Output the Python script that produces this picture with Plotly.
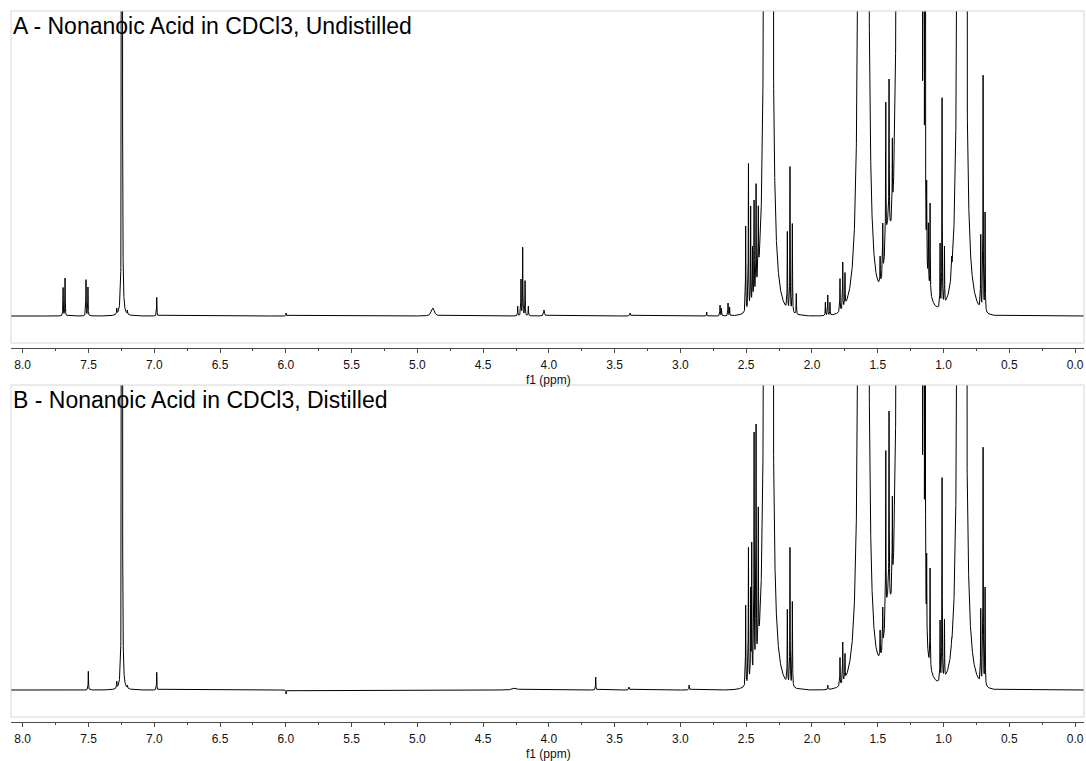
import numpy as np
import plotly.graph_objects as go

W, H = 1086, 761

# ---------------------------------------------------------------------------
# 1H NMR peak tables (chemical shift in ppm)
# Main nonanoic-acid signals, identical in both samples (tops run off scale):
# shift, amplitude, half-width at half-maximum
MAJOR_SHIFT = [7.245,
               2.350, 2.332, 2.314,
               1.635, 1.622, 1.609, 1.596, 1.583,
               1.425,
               1.340, 1.315, 1.290, 1.265, 1.240, 1.215, 1.200,
               1.178, 1.166, 1.152, 1.140,
               0.880, 0.862, 0.844]
MAJOR_AMP = [11000,
             7800, 15600, 7800,
             4900, 9800, 14700, 9800, 4900,
             60,
             10600, 15200, 18300, 18300, 15200, 12200, 7600,
             2500, 3000, 3000, 1500,
             8070, 16130, 8070]
MAJOR_HW = [0.0006,
            0.003, 0.003, 0.003,
            0.003, 0.003, 0.003, 0.003, 0.003,
            0.03,
            0.003, 0.003, 0.003, 0.003, 0.003, 0.003, 0.003,
            0.001, 0.001, 0.001, 0.001,
            0.003, 0.003, 0.003]

# A - undistilled: resolved lines (shift, apex height above baseline, half-width)
A_SHIFT = [7.693, 7.678, 7.519, 7.504, 7.285, 7.204, 6.981, 5.998,
           4.881, 4.237, 4.212, 4.199, 4.181, 4.156, 4.037, 3.383,
           2.800, 2.699, 2.688, 2.638, 2.626,
           2.504, 2.483, 2.466, 2.452, 2.440, 2.425, 2.408, 2.390, 2.377,
           2.187, 2.167, 2.149, 2.119,
           1.898, 1.880, 1.863,
           1.787, 1.766, 1.749,
           1.482, 1.462, 1.439, 1.414, 1.389,
           1.128, 1.115, 1.102,
           1.026, 1.011, 0.993, 0.938,
           0.717, 0.699, 0.684]
A_HEIGHT = [29, 38, 37, 29, 8, 6, 19, 3,
            8, 10, 37, 70, 36, 10, 6, 3,
            4, 11, 8, 13, 9,
            90, 155, 110, 70, 116, 134, 110, 92, 83,
            86, 152, 94, 23,
            14, 21, 14,
            38, 54, 44,
            60, 93, 216, 237, 179,
            136, 94, 113,
            73, 222, 71, 60,
            83, 245, 104]
A_HW = [0.0015] * 8 + [0.012, 0.0015, 0.0015, 0.0015, 0.0015, 0.0015, 0.004, 0.003] \
    + [0.0015] * (len(A_SHIFT) - 16)

# B - distilled
B_SHIFT = [7.501, 7.285, 7.204, 6.981, 5.998,
           4.257, 3.644, 3.391, 2.934,
           2.504, 2.483, 2.466, 2.458, 2.440, 2.425, 2.408, 2.390, 2.377,
           2.187, 2.167, 2.149,
           1.880,
           1.787, 1.766, 1.749,
           1.482, 1.462, 1.439, 1.414, 1.389,
           1.128, 1.102,
           1.026, 1.011, 0.993, 0.938,
           0.717, 0.699, 0.684]
B_HEIGHT = [19, 9, 5, 18, -4,
            2, 13, 3, 5,
            85, 145, 103, 148, 258, 270, 183, 87, 120,
            82, 145, 90,
            5,
            33, 48, 37,
            60, 83, 242, 279, 195,
            137, 122,
            70, 216, 72, 52,
            83, 247, 103]
B_HW = [0.0015] * 5 + [0.02, 0.0015, 0.003, 0.002] + [0.0015] * (len(B_SHIFT) - 9)

TITLES = ["A - Nonanoic Acid in CDCl3, Undistilled",
          "B - Nonanoic Acid in CDCl3, Distilled"]
X_LABEL = "f1 (ppm)"
# ---------------------------------------------------------------------------

ppm = np.arange(-0.08, 8.10, 0.0004)
TAIL_CUTOFF = 0.17   # ppm; Gaussian window that trims the far Lorentzian wings


def line_shape(x, c, g):
    d = x - c
    return g ** 2 / (d ** 2 + g ** 2) * np.exp(-(d / TAIL_CUTOFF) ** 2)


def spectrum(shift, height, hw):
    shift, height, hw = map(np.asarray, (shift, height, hw))
    mc, ma, mg = map(np.asarray, (MAJOR_SHIFT, MAJOR_AMP, MAJOR_HW))
    major = (ma[None, :] * line_shape(ppm[:, None], mc[None, :], mg[None, :])).sum(1)
    under = (ma[None, :] * line_shape(shift[:, None], mc[None, :], mg[None, :])).sum(1)
    # amplitudes so that every listed line peaks at its stated height
    m = line_shape(shift[:, None], shift[None, :], hw[None, :])
    amp = np.linalg.solve(m, height - under)
    amp = np.where(amp * height > 0, amp, 0.0)
    lines = (amp[None, :] * line_shape(ppm[:, None], shift[None, :], hw[None, :])).sum(1)
    return major + lines


spec_a = spectrum(A_SHIFT, A_HEIGHT, A_HW)
spec_b = spectrum(B_SHIFT, B_HEIGHT, B_HW)

fig = go.Figure()
fig.add_trace(go.Scatter(x=ppm, y=spec_a, mode="lines", xaxis="x", yaxis="y",
                         line=dict(color="black", width=1), hoverinfo="skip"))
fig.add_trace(go.Scatter(x=ppm, y=spec_b, mode="lines", xaxis="x2", yaxis="y2",
                         line=dict(color="black", width=1), hoverinfo="skip"))

x_left, x_right = 11, 1084
panels = [dict(top=11, box_bottom=343, axis=348, label_y=380),
          dict(top=385, box_bottom=717, axis=722, label_y=754)]

font_family = "Liberation Sans, Arial, sans-serif"
tick_font = dict(family=font_family, size=12, color="#111111")
axis_common = dict(
    range=[8.089, -0.068], domain=[x_left / W, x_right / W],
    showline=True, linecolor="#4a4a4a", linewidth=1,
    ticks="outside", ticklen=4, tickcolor="#4a4a4a", tickwidth=1,
    ticklabelstandoff=2,
    tick0=0, dtick=0.5, tickformat=".1f", tickfont=tick_font,
    minor=dict(dtick=0.25, ticks="outside", ticklen=2, tickcolor="#4a4a4a"),
    showgrid=False, zeroline=False, fixedrange=True,
)

layout = dict(
    width=W, height=H, margin=dict(l=0, r=0, t=0, b=0),
    paper_bgcolor="white", plot_bgcolor="white", showlegend=False,
    shapes=[], annotations=[],
)
for i, p in enumerate(panels):
    sx = "" if i == 0 else str(i + 1)
    layout["xaxis" + sx] = dict(axis_common, anchor="y" + sx)
    layout["yaxis" + sx] = dict(domain=[1 - p["axis"] / H, 1 - p["top"] / H],
                               range=[-32, 305], visible=False, fixedrange=True,
                               anchor="x" + sx)
    layout["shapes"].append(dict(type="rect", xref="paper", yref="paper",
                                 x0=x_left / W, x1=x_right / W,
                                 y0=1 - p["box_bottom"] / H, y1=1 - p["top"] / H,
                                 line=dict(color="#d6d6d6", width=1)))
    layout["annotations"].append(dict(text=TITLES[i], xref="paper", yref="paper",
                                      x=x_left / W, y=1 - (p["top"] + 15) / H,
                                      xanchor="left", yanchor="middle", showarrow=False,
                                      font=dict(family=font_family, size=23, color="black")))
    layout["annotations"].append(dict(text=X_LABEL, xref="paper", yref="paper",
                                      x=548 / W, y=1 - p["label_y"] / H,
                                      xanchor="center", yanchor="middle", showarrow=False,
                                      font=tick_font))

fig.update_layout(**layout)
fig.write_html("out.html")
